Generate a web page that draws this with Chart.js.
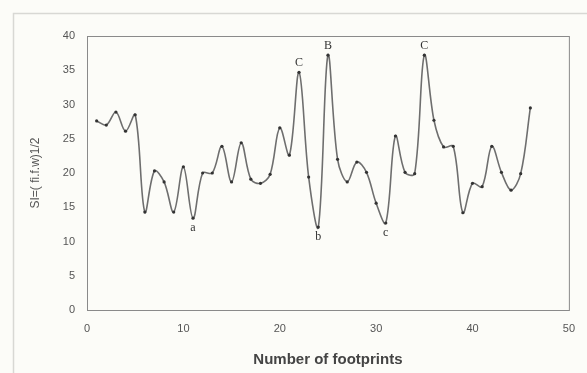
<!DOCTYPE html>
<html>
<head>
<meta charset="utf-8">
<script src="https://cdn.jsdelivr.net/npm/chart.js@4"></script>
<style>
  html, body { margin: 0; padding: 0; background: #fcfcf8; }
  #wrap { width: 587px; height: 373px; position: relative; }
</style>
</head>
<body>
<div id="wrap"><canvas id="footChart" width="587" height="373"></canvas></div>
<script>
// footprint number (x) and SI value (y)
const footprints = [1, 2, 3, 4, 5, 6, 7, 8, 9, 10, 11, 12, 13, 14, 15, 16, 17, 18, 19, 20, 21, 22, 23,
    24, 25, 26, 27, 28, 29, 30, 31, 32, 33, 34, 35, 36, 37, 38, 39, 40, 41, 42, 43, 44, 45, 46];
const siValues = [27.6, 27.0, 28.9, 26.1, 28.5, 14.3, 20.3, 18.7, 14.3, 20.9, 13.4, 20.0, 20.0, 23.9,
    18.7, 24.4, 19.1, 18.5, 19.8, 26.6, 22.6, 34.7, 19.4, 12.1, 37.2, 22.0, 18.7, 21.6, 20.1, 15.6,
    12.7, 25.4, 20.1, 19.9, 37.2, 27.7, 23.8, 23.9, 14.2, 18.5, 18.0, 23.9, 20.1, 17.5, 19.9, 29.5];
const xTicks = [0, 10, 20, 30, 40, 50];
const yTicks = [0, 5, 10, 15, 20, 25, 30, 35, 40];

// letters marking the peaks and troughs
const markText = ['a', 'C', 'B', 'b', 'c', 'C'];
const markAt = [11, 22, 25, 24, 31, 35];
const markAbove = [false, true, true, false, false, true];

const frameAndMarks = {
    id: 'frameAndMarks',
    beforeDraw(chart) {
        const ctx = chart.ctx;
        ctx.save();
        ctx.strokeStyle = '#d8d8d4';
        ctx.lineWidth = 1.5;
        ctx.beginPath();
        ctx.moveTo(13.5, 373);
        ctx.lineTo(13.5, 13.5);
        ctx.lineTo(587, 13.5);
        ctx.stroke();
        const a = chart.chartArea;
        ctx.strokeStyle = '#8a8a8a';
        ctx.lineWidth = 1;
        ctx.strokeRect(a.left + 0.5, a.top + 0.5, a.right - a.left, a.bottom - a.top);
        ctx.restore();
    },
    afterDatasetsDraw(chart) {
        const ctx = chart.ctx;
        const xs = chart.scales.x, ys = chart.scales.y;
        ctx.save();
        ctx.fillStyle = '#333';
        ctx.font = '12px "Liberation Serif"';
        ctx.textAlign = 'center';
        markText.forEach((t, i) => {
            const v = siValues[footprints.indexOf(markAt[i])];
            const px = xs.getPixelForValue(markAt[i]);
            const py = ys.getPixelForValue(v);
            ctx.textBaseline = markAbove[i] ? 'bottom' : 'top';
            ctx.fillText(t, px, markAbove[i] ? py - 3 : py + 4);
        });
        ctx.restore();
    }
};

const ctx = document.getElementById('footChart').getContext('2d');
new Chart(ctx, {
    type: 'line',
    data: {
        datasets: [{
            data: footprints.map((f, i) => ({ x: f, y: siValues[i] })),
            borderColor: '#6e6e6e',
            borderWidth: 1.6,
            tension: 0.35,
            pointRadius: 1.6,
            pointBackgroundColor: '#333',
            pointBorderWidth: 0,
            fill: false
        }]
    },
    options: {
        responsive: false,
        animation: false,
        layout: { padding: { left: 28, top: 36, right: 10, bottom: 0 } },
        plugins: { legend: { display: false }, tooltip: { enabled: false } },
        scales: {
            x: {
                type: 'linear',
                min: 0,
                max: 50,
                afterBuildTicks: (s) => { s.ticks = xTicks.map(v => ({ value: v })); },
                afterFit: (s) => { s.height = 63; },
                grid: { display: false, drawTicks: false },
                border: { display: false },
                ticks: { color: '#555', font: { family: 'Liberation Sans', size: 11 }, padding: 12 },
                title: {
                    display: true,
                    text: 'Number of footprints',
                    color: '#444',
                    font: { family: 'Liberation Sans', size: 15, weight: 'bold' },
                    padding: { top: 3 }
                }
            },
            y: {
                min: 0,
                max: 40,
                afterBuildTicks: (s) => { s.ticks = yTicks.map(v => ({ value: v })); },
                afterFit: (s) => { s.width = 59; },
                grid: { display: false, drawTicks: false },
                border: { display: false },
                ticks: { color: '#555', font: { family: 'Liberation Sans', size: 11 }, padding: 12 },
                title: {
                    display: true,
                    text: 'SI=( fi.f.w)1/2',
                    color: '#555',
                    font: { family: 'Liberation Sans', size: 12 },
                    padding: { top: 0, bottom: 4 }
                }
            }
        }
    },
    plugins: [frameAndMarks]
});
</script>
</body>
</html>
